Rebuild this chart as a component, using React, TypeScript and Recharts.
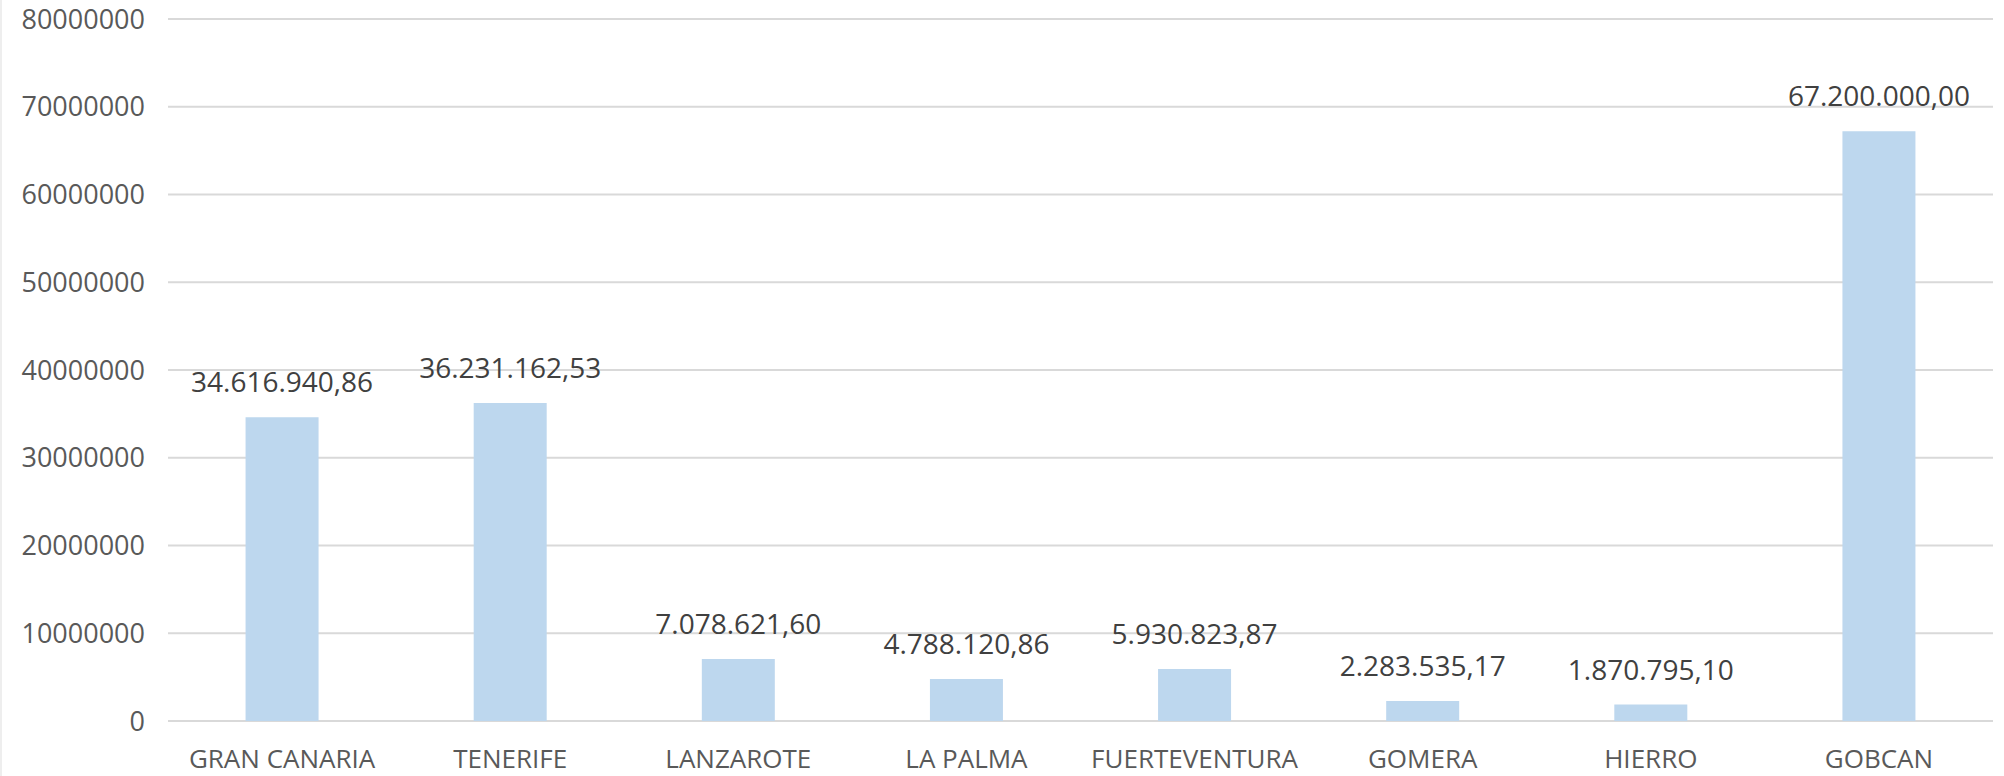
import { BarChart, Bar, XAxis, YAxis, CartesianGrid, LabelList } from 'recharts';

// Islands / budget lines
const CATEGORIES = ['GRAN CANARIA', 'TENERIFE', 'LANZAROTE', 'LA PALMA', 'FUERTEVENTURA', 'GOMERA', 'HIERRO', 'GOBCAN'];

const AMOUNTS = [34616940.86, 36231162.53, 7078621.6, 4788120.86, 5930823.87, 2283535.17, 1870795.1, 67200000];

const Y_TICKS = [0, 10000000, 20000000, 30000000, 40000000, 50000000, 60000000, 70000000, 80000000];

const FONT = '"Open Sans", sans-serif';

// Spanish number format: 34.616.940,86
function formatAmount(v: number): string {
  const [int, dec] = v.toFixed(2).split('.');
  return `${int.replace(/\B(?=(\d{3})+(?!\d))/g, '.')},${dec}`;
}

export default function App() {
  const data = CATEGORIES.map((name, i) => ({ name, value: AMOUNTS[i] }));

  return (
    <div
      style={{
        position: 'absolute',
        left: 0,
        top: 0,
        width: 2004,
        height: 776,
        background: '#fff',
        borderLeft: '2px solid #eeeeee',
        boxSizing: 'border-box',
      }}
    >
      <BarChart
        width={2002}
        height={776}
        data={data}
        margin={{ top: 19, right: 11, bottom: 25, left: 0 }}
        barCategoryGap="34%"
      >
        <CartesianGrid vertical={false} stroke="#d9d9d9" strokeWidth={2} />
        <XAxis
          dataKey="name"
          axisLine={false}
          tickLine={false}
          tickMargin={23}
          height={30}
          interval={0}
          tick={{ fontSize: 26, fill: '#595959', fontFamily: FONT }}
        />
        <YAxis
          width={166}
          domain={[0, 80000000]}
          ticks={Y_TICKS}
          axisLine={false}
          tickLine={false}
          tickMargin={17}
          interval={0}
          tick={{ fontSize: 27, fill: '#595959', fontFamily: FONT }}
        />
        <Bar dataKey="value" fill="#bdd7ee" isAnimationActive={false}>
          <LabelList
            dataKey="value"
            position="top"
            offset={25}
            formatter={(v: number) => formatAmount(v)}
            style={{ fontSize: 28, fill: '#404040', fontFamily: FONT }}
          />
        </Bar>
      </BarChart>
    </div>
  );
}
